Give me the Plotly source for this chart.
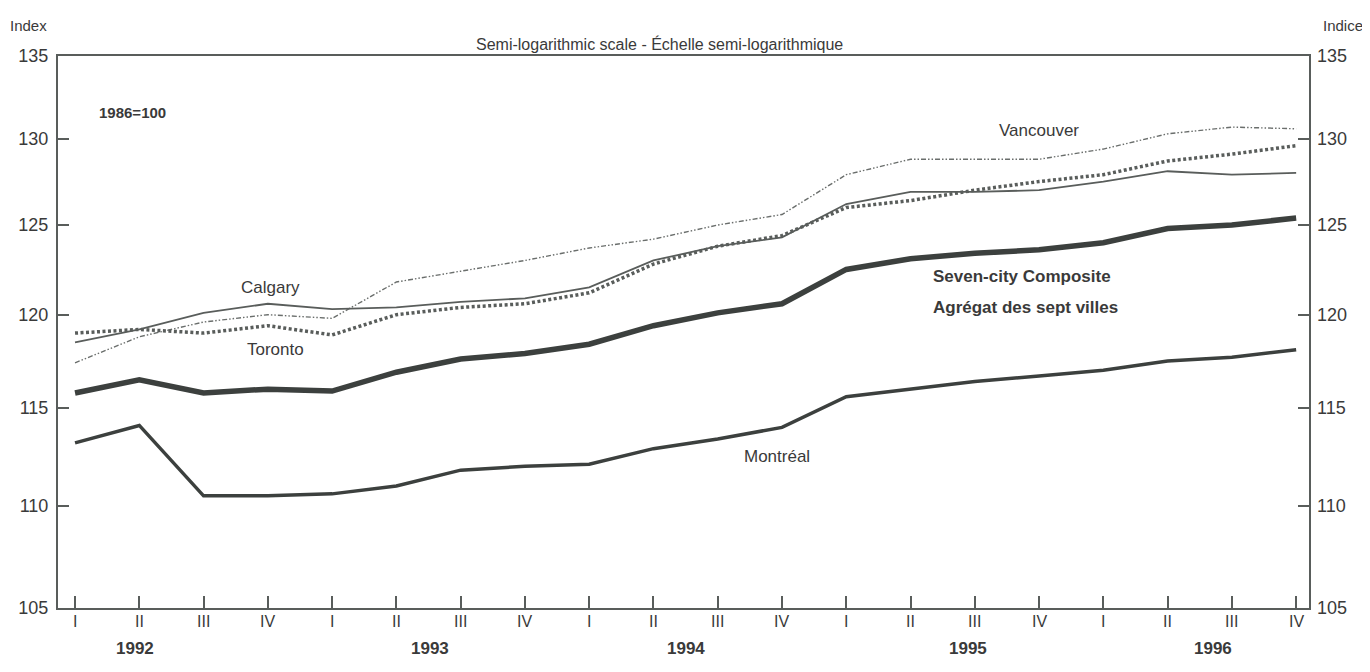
import math
import plotly.graph_objects as go

# quarters 1992 I .. 1996 IV
quarters = ['I', 'II', 'III', 'IV'] * 5
years = ['1992', '1993', '1994', '1995', '1996']
year_pos = [0.93, 5.53, 9.5, 13.9, 17.7]

composite = [115.8, 116.5, 115.8, 116.0, 115.9, 116.9, 117.6, 117.9, 118.4, 119.4,
             120.1, 120.6, 122.5, 123.1, 123.4, 123.6, 124.0, 124.8, 125.0, 125.4]
montreal = [113.2, 114.1, 110.5, 110.5, 110.6, 111.0, 111.8, 112.0, 112.1, 112.9,
            113.4, 114.0, 115.6, 116.0, 116.4, 116.7, 117.0, 117.5, 117.7, 118.1]
calgary = [118.5, 119.2, 120.1, 120.6, 120.3, 120.4, 120.7, 120.9, 121.5, 123.0,
           123.8, 124.3, 126.2, 126.9, 126.9, 127.0, 127.5, 128.1, 127.9, 128.0]
toronto = [119.0, 119.2, 119.0, 119.4, 118.9, 120.0, 120.4, 120.6, 121.2, 122.8,
           123.8, 124.4, 126.0, 126.4, 127.0, 127.5, 127.9, 128.7, 129.1, 129.6]
vancouver = [117.4, 118.8, 119.6, 120.0, 119.8, 121.8, 122.4, 123.0, 123.7, 124.2,
             125.0, 125.6, 127.9, 128.8, 128.8, 128.8, 129.4, 130.3, 130.7, 130.6]

y_ticks = [105, 110, 115, 120, 125, 130, 135]

x = list(range(len(quarters)))
dark = '#3c403e'
grey = '#595d5b'
txt_col = '#3a3a3a'
font = 'Liberation Sans, Arial, sans-serif'
y_range = [math.log10(105), math.log10(135)]

fig = go.Figure()
fig.add_trace(go.Scatter(x=x, y=vancouver, mode='lines',
                         line=dict(color='#6a6e6c', width=1.4, dash='5px,2px,1.5px,2px,1.5px,2px')))
fig.add_trace(go.Scatter(x=x, y=calgary, mode='lines',
                         line=dict(color=grey, width=1.8)))
fig.add_trace(go.Scatter(x=x, y=toronto, mode='lines',
                         line=dict(color=grey, width=3.5, dash='3px,2.5px')))
fig.add_trace(go.Scatter(x=x, y=montreal, mode='lines',
                         line=dict(color=dark, width=3.5)))
fig.add_trace(go.Scatter(x=x, y=composite, mode='lines',
                         line=dict(color=dark, width=5.5)))
# invisible trace to carry the right-hand axis
fig.add_trace(go.Scatter(x=x, y=composite, mode='lines', yaxis='y2',
                         line=dict(width=0), opacity=0, hoverinfo='skip'))

yaxis_common = dict(
    type='log',
    range=y_range,
    tickvals=y_ticks,
    ticktext=[str(v) for v in y_ticks],
    ticks='inside',
    ticklen=11,
    tickwidth=1.5,
    tickcolor=grey,
    tickfont=dict(size=18, color=txt_col),
    showgrid=False,
    zeroline=False,
    automargin=False,
)

fig.update_layout(
    width=1354,
    height=656,
    showlegend=False,
    plot_bgcolor='white',
    paper_bgcolor='white',
    margin=dict(l=50, r=53, t=48, b=56, autoexpand=False),
    font=dict(family=font, color=txt_col),
    xaxis=dict(
        range=[-0.265, 19.2],
        tickmode='array',
        tickvals=[0, 4, 8, 12, 16],
        ticktext=['', '', '', '', ''],
        ticks='inside',
        ticklen=30,
        tickwidth=1.5,
        tickcolor=grey,
        minor=dict(tickmode='array', tickvals=x, ticks='inside', ticklen=12,
                   tickwidth=1.5, tickcolor=grey),
        showgrid=False,
        zeroline=False,
        showline=True,
        linecolor=grey,
        linewidth=2,
        mirror=True,
        automargin=False,
    ),
    yaxis=dict(yaxis_common, showline=True, linecolor=grey, linewidth=2, mirror=True,
               ticklabelstandoff=4),
    yaxis2=dict(yaxis_common, overlaying='y', side='right', ticklabelstandoff=7),
)

# quarter labels and years below the axis
for i, q in enumerate(quarters):
    fig.add_annotation(x=i, y=0, xref='x', yref='paper', yshift=-24, text=q,
                       showarrow=False, font=dict(size=16, color=txt_col))
for yr, pos in zip(years, year_pos):
    fig.add_annotation(x=pos, y=0, xref='x', yref='paper', yshift=-52, text='<b>' + yr + '</b>',
                       showarrow=False, font=dict(size=17, color=txt_col))

# header texts
fig.add_annotation(x=-0.04, y=1.074, xref='paper', yref='paper', text='Index', xanchor='left',
                   showarrow=False, font=dict(size=15, color=txt_col))
fig.add_annotation(x=1.045, y=1.074, xref='paper', yref='paper', text='Indice', xanchor='right',
                   showarrow=False, font=dict(size=15, color=txt_col))
fig.add_annotation(x=0.481, y=1.042, xref='paper', yref='paper',
                   text='Semi-logarithmic scale - Échelle semi-logarithmique',
                   showarrow=False, font=dict(size=16, color=txt_col))
fig.add_annotation(x=0.031, y=0.917, xref='paper', yref='paper', text='<b>1986=100</b>',
                   xanchor='left', showarrow=False, font=dict(size=15, color=txt_col))

# series labels (log axis: annotation y in log10 units)
labels = [
    (15.0, 130.5, 'Vancouver', 'center', False),
    (3.04, 121.5, 'Calgary', 'center', False),
    (3.12, 118.1, 'Toronto', 'center', False),
    (13.32, 122.1, 'Seven-city Composite', 'left', True),
    (13.32, 120.4, 'Agrégat des sept villes', 'left', True),
    (10.93, 112.5, 'Montréal', 'center', False),
]
for lx, ly, txt, anchor, bold in labels:
    fig.add_annotation(x=lx, y=math.log10(ly), xref='x', yref='y', showarrow=False,
                       xanchor=anchor, text='<b>' + txt + '</b>' if bold else txt,
                       font=dict(size=17, color=txt_col))

fig.write_html('out.html')
